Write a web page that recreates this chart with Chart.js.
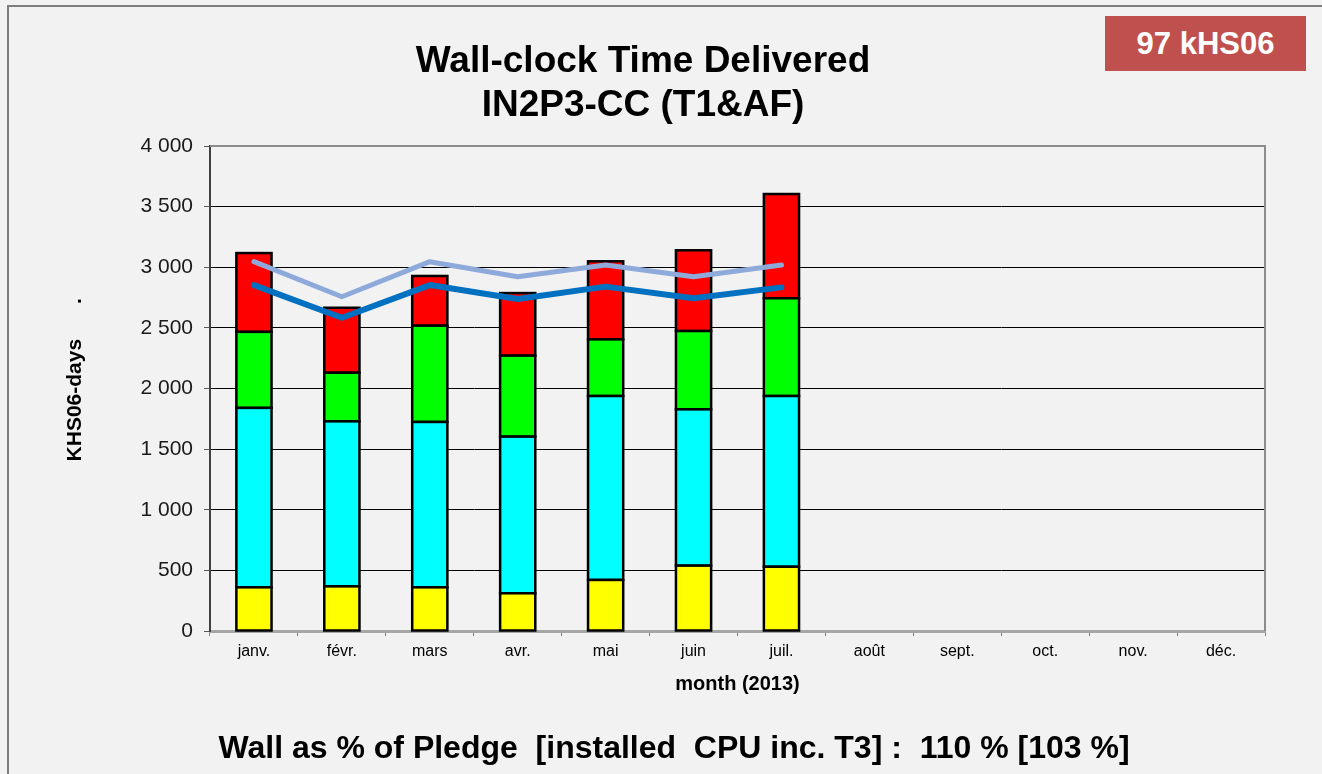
<!DOCTYPE html>
<html>
<head>
<meta charset="utf-8">
<script src="https://cdn.jsdelivr.net/npm/chart.js@4.4.0/dist/chart.umd.min.js"></script>
<style>
	html, body { margin: 0; padding: 0; background: #f2f2f2; }
	#wrap { position: relative; width: 1322px; height: 774px; overflow: hidden; font-family: "Liberation Sans", Arial, sans-serif; }
	#frame { position: absolute; left: 7px; top: 5px; width: 1400px; height: 900px; border-top: 2px solid #7f7f7f; border-left: 2px solid #7f7f7f; }
	#myChart { position: absolute; left: 0; top: 0; }
	.title { position: absolute; left: 0; width: 1286px; text-align: center; font-weight: bold; font-size: 37px; color: #000; line-height: 1; }
	#badge { position: absolute; left: 1105px; top: 16px; width: 201px; height: 55px; background: #c0504d; color: #fff; font-weight: bold; font-size: 31px; line-height: 55px; text-align: center; }
	#pledge { position: absolute; left: 0; width: 1348px; top: 731px; text-align: center; font-weight: bold; font-size: 32px; line-height: 1; color: #000; }
</style>
</head>
<body>
<div id="wrap">
	<div id="frame"></div>
	<canvas id="myChart" width="1322" height="774"></canvas>
	<div class="title" style="top:41px">Wall-clock Time Delivered</div>
	<div class="title" style="top:85px">IN2P3-CC (T1&amp;AF)</div>
	<div id="badge">97 kHS06</div>
	<div id="pledge">Wall as % of Pledge&nbsp; [installed&nbsp; CPU inc. T3] :&nbsp; 110 % [103 %]</div>
</div>
<script>
var months = ["janv.", "févr.", "mars", "avr.", "mai", "juin", "juil.", "août", "sept.", "oct.", "nov.", "déc."];
var yellowVals = [360, 368, 360, 311, 421, 539, 530, null, null, null, null, null];
var cyanVals = [1480, 1361, 1364, 1292, 1517, 1289, 1408, null, null, null, null, null];
var greenVals = [627, 401, 794, 668, 467, 646, 806, null, null, null, null, null];
var redVals = [650, 536, 410, 516, 644, 666, 860, null, null, null, null, null];
var pledgeInstalled = [3046, 2757, 3046, 2922, 3018, 2922, 3018, null, null, null, null, null];
var pledgeWall = [2853, 2584, 2853, 2738, 2840, 2744, 2834, null, null, null, null, null];
var yTicks = [0, 500, 1000, 1500, 2000, 2500, 3000, 3500, 4000];

var FONT = "'Liberation Sans', Arial, sans-serif";

function barSet(label, vals, color) {
	return {
		type: 'bar',
		label: label,
		data: vals,
		backgroundColor: color,
		borderWidth: 0,
		inflateAmount: 0,
		stack: 'wall',
		order: 2
	};
}

function lineSet(label, vals, color, width) {
	return {
		type: 'line',
		label: label,
		data: vals,
		borderColor: color,
		backgroundColor: color,
		borderWidth: width,
		borderCapStyle: 'round',
		borderJoinStyle: 'round',
		pointRadius: 0,
		tension: 0,
		fill: false,
		stack: label,
		order: 0
	};
}

// black outline round each bar segment, centred on its edges
var barOutline = {
	id: 'barOutline',
	afterDatasetDraw: function (chart, args) {
		if (args.meta.type !== 'bar') return;
		var vals = chart.data.datasets[args.index].data;
		var c = chart.ctx;
		c.save();
		c.strokeStyle = '#000';
		c.lineWidth = 2.5;
		args.meta.data.forEach(function (bar, i) {
			if (vals[i] == null) return;
			var p = bar.getProps(['x', 'y', 'base', 'width'], true);
			c.strokeRect(p.x - p.width / 2, p.y, p.width, p.base - p.y);
		});
		c.restore();
	}
};

// frame on top and right of plot area
var plotFrame = {
	id: 'plotFrame',
	afterDatasetsDraw: function (chart) {
		var a = chart.chartArea, c = chart.ctx;
		c.save();
		c.strokeStyle = '#8c8c8c';
		c.lineWidth = 2;
		c.beginPath();
		c.moveTo(a.left, a.top);
		c.lineTo(a.right, a.top);
		c.lineTo(a.right, a.bottom);
		c.stroke();
		c.restore();
	}
};

var ctx = document.getElementById('myChart');
new Chart(ctx, {
	data: {
		labels: months,
		datasets: [
			lineSet('Pledge installed', pledgeInstalled, '#8eaadb', 5),
			lineSet('Pledge', pledgeWall, '#0070c0', 6),
			barSet('yellow', yellowVals, '#ffff00'),
			barSet('cyan', cyanVals, '#00ffff'),
			barSet('green', greenVals, '#00ff00'),
			barSet('red', redVals, '#ff0000')
		]
	},
	options: {
		responsive: false,
		animation: false,
		devicePixelRatio: 1,
		layout: { padding: { left: 0, right: 57, top: 146, bottom: 72 } },
		datasets: { bar: { barPercentage: 0.4, categoryPercentage: 1 } },
		plugins: {
			legend: { display: false },
			tooltip: { enabled: false },
			title: { display: false }
		},
		scales: {
			x: {
				stacked: true,
				offset: true,
				grid: { offset: true, drawOnChartArea: false, drawTicks: true, tickLength: 5, color: '#808080', lineWidth: 1 },
				border: { color: '#a6a6a6', width: 3 },
				ticks: { color: '#000', font: { family: FONT, size: 16 }, padding: 6, maxRotation: 0, autoSkip: false },
				title: { display: true, text: 'month (2013)', color: '#000', font: { family: FONT, size: 20, weight: 'bold' }, padding: { top: 6, bottom: 6 } },
				afterFit: function (s) { s.height = 71; }
			},
			y: {
				stacked: true,
				min: 0,
				max: 4000,
				afterBuildTicks: function (s) { s.ticks = yTicks.map(function (v) { return { value: v }; }); },
				grid: { color: '#000', lineWidth: 1, tickLength: 6, tickColor: '#595959', drawTicks: true },
				border: { color: '#404040', width: 2 },
				ticks: {
					color: '#1a1a1a',
					font: { family: FONT, size: 21 },
					padding: 11,
					callback: function (v) { return String(v).replace(/\B(?=(\d{3})+(?!\d))/g, ' '); }
				},
				title: { display: true, text: '   KHS06-days      .', color: '#000', font: { family: FONT, size: 21, weight: 'bold' }, padding: { top: 63, bottom: 0 } },
				afterFit: function (s) { s.width = 210; }
			}
		}
	},
	plugins: [barOutline, plotFrame]
});
</script>
</body>
</html>
